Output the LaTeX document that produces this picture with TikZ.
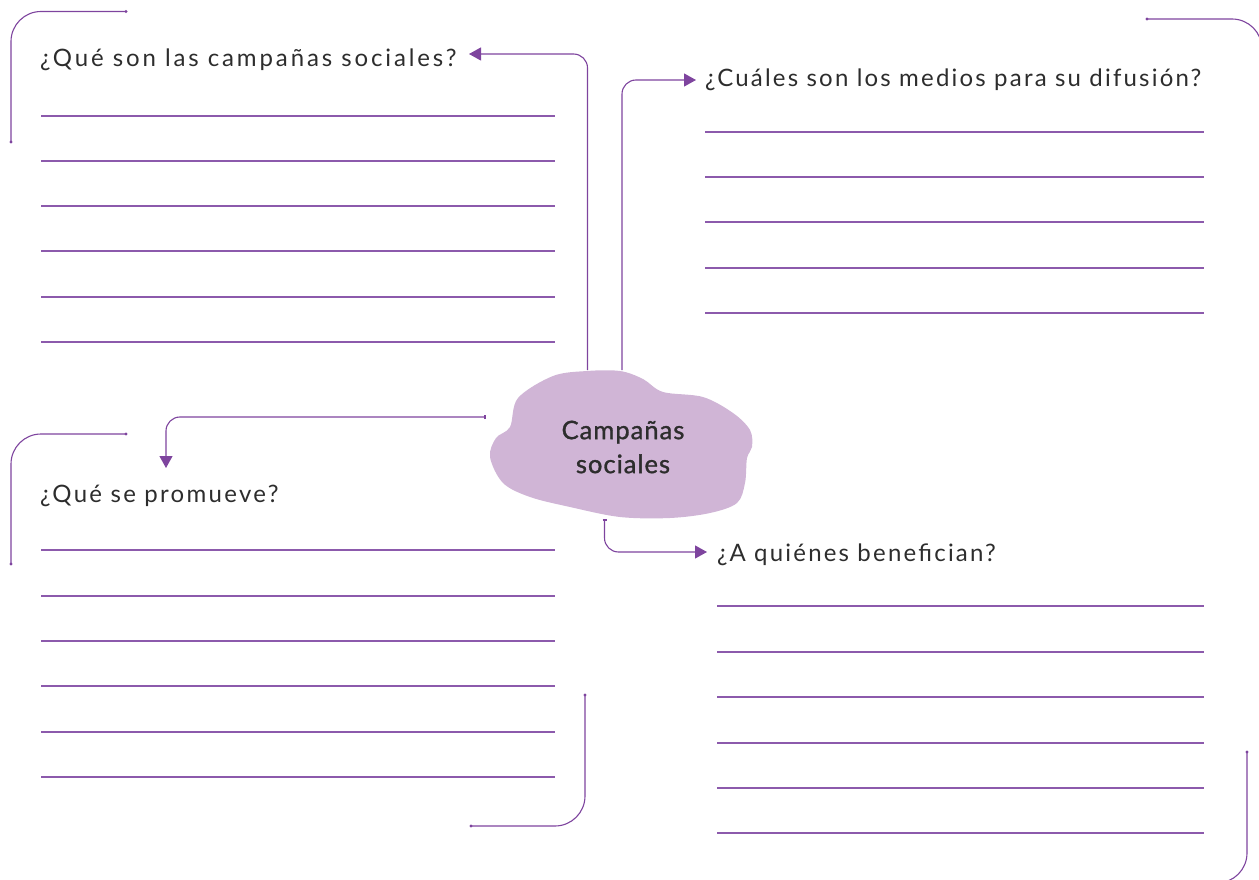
\documentclass[tikz,border=0pt]{standalone}
\usepackage{fontspec}
\setmainfont{Lato}
\usetikzlibrary{arrows.meta}
\definecolor{lila}{RGB}{126,68,158}
\definecolor{wline}{RGB}{140,90,172}
\definecolor{cloudfill}{RGB}{208,181,214}
\definecolor{ink}{RGB}{45,45,45}
\tikzset{
  qtext/.style={anchor=base west, inner sep=0, text=ink, font=\addfontfeatures{LetterSpace=#1}\fontsize{24}{28}\selectfont},
  ctext/.style={align=center, inner sep=0, text=ink, font=\addfontfeatures{LetterSpace=4,FakeBold=1.2}\fontsize{25.5}{34}\selectfont},
  wline/.style={draw=wline, line width=1.1pt},
  conn/.style={draw=lila, line width=1.1pt, rounded corners=14pt, -{Triangle[length=12pt,width=13pt]}},
  tick/.style={draw=lila, line width=1.1pt},
  deco/.style={draw=lila, line width=1.1pt, rounded corners=30pt},
  dot/.style={fill=lila, draw=none}
}
\begin{document}
\begin{tikzpicture}[x=1pt,y=-1pt]
\useasboundingbox (0,0) rectangle (1259,880);
% cloud blob
\fill[cloudfill] plot[smooth cycle, tension=0.55] coordinates {
 (510,427) (518,398) (553,376) (587,371) (620,371) (643,379) (663,392)
 (703,397) (733,413) (750,430) (752,447) (747,458) (745,483) (737,503)
 (710,513) (670,518) (620,517) (570,507) (530,497) (503,483) (490,457) (496,438)};
\node[ctext] (cloud) at (623,447) {Campañas\\sociales};

% questions
\node[qtext=12] (q1) at (40,67) {¿Qué son las campañas sociales?};
\node[qtext=9.2] (q2) at (705,87) {¿Cuáles son los medios para su difusión?};
\node[qtext=9.6] (q3) at (40,502) {¿Qué se promueve?};
\node[qtext=9.2] (q4) at (717,561) {¿A quiénes benefician?};

% writing lines
\foreach \y in {116,161,206,251,297,342} \draw[wline] (41,\y) -- (555,\y);
\foreach \y in {132,177,222,268,313} \draw[wline] (705,\y) -- (1204,\y);
\foreach \y in {550,596,641,686,732,777} \draw[wline] (41,\y) -- (555,\y);
\foreach \y in {606,652,697,743,788,833} \draw[wline] (717,\y) -- (1204,\y);

% connector end points
\coordinate (s1) at (587.5,370);
\coordinate (t1) at (469,54);
\coordinate (s2) at (622,370);
\coordinate (t2) at (696,80);
\coordinate (s3) at (485,417);
\coordinate (t3) at (166,468);
\coordinate (s4) at (604.5,520);
\coordinate (t4) at (707,552);

\draw[conn] (s1) |- (t1);
\draw[conn] (s2) |- (t2);
\draw[conn] (s3) -| (t3);
\draw[tick] ([yshift=-2pt]s3) -- ([yshift=2pt]s3);
\draw[conn] (s4) |- (t4);
\draw[tick] ([xshift=-2pt]s4) -- ([xshift=2pt]s4);

% decorative brackets
\coordinate (d1a) at (126,11.5);
\coordinate (d1b) at (11,142);
\draw[deco] (d1a) -| (d1b);
\fill[dot] (d1a) circle (1.6); \fill[dot] (d1b) circle (1.6);

\coordinate (d2a) at (126,434);
\coordinate (d2b) at (11,564);
\draw[deco] (d2a) -| (d2b);
\fill[dot] (d2a) circle (1.6); \fill[dot] (d2b) circle (1.6);

\coordinate (d3a) at (1147,19);
\coordinate (d3b) at (1262,120);
\begin{scope}
\clip (0,0) rectangle (1259,880);
\draw[deco] (d3a) -| (d3b);
\end{scope}
\fill[dot] (d3a) circle (1.6);

\coordinate (d4a) at (1247,752);
\coordinate (d4b) at (1150,883);
\begin{scope}
\clip (0,0) rectangle (1259,880);
\draw[deco] (d4a) |- (d4b);
\end{scope}
\fill[dot] (d4a) circle (1.6);

\coordinate (d5a) at (585,695);
\coordinate (d5b) at (471,826);
\draw[deco] (d5a) |- (d5b);
\fill[dot] (d5a) circle (1.6); \fill[dot] (d5b) circle (1.6);
\end{tikzpicture}
\end{document}
